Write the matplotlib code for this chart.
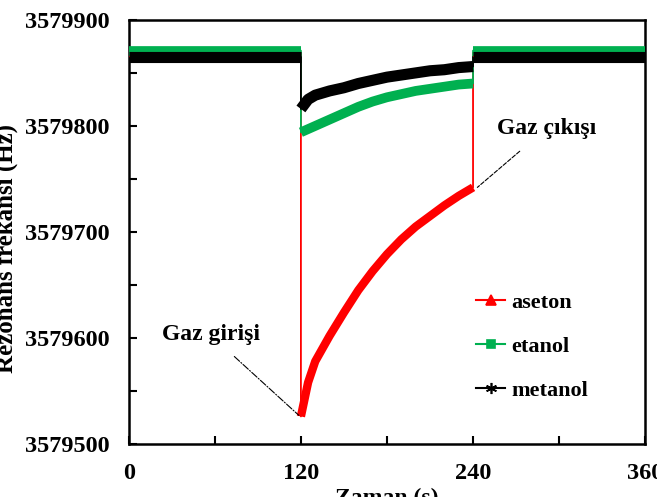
import matplotlib
matplotlib.use("Agg")
import matplotlib.pyplot as plt
from matplotlib.lines import Line2D

# zaman (s) ve rezonans frekansi (Hz)
base_time = [0, 120]
after_time = [240, 360]
gas_time = [120, 125, 130, 135, 140, 150, 160, 170, 180, 190, 200, 210, 220, 230, 240]

aseton_base = 3579869
aseton_gas = [3579526, 3579558, 3579578, 3579590, 3579602, 3579624, 3579645, 3579663,
              3579679, 3579693, 3579705, 3579715, 3579725, 3579734, 3579742]

etanol_base = 3579871
etanol_gas = [3579794, 3579797, 3579800, 3579803, 3579806, 3579812, 3579818, 3579823,
              3579827, 3579830, 3579833, 3579835, 3579837, 3579839, 3579840]

metanol_base = 3579865
metanol_gas = [3579816, 3579825, 3579829, 3579831, 3579833, 3579836, 3579840, 3579843,
               3579846, 3579848, 3579850, 3579852, 3579853, 3579855, 3579856]

x_ticks = [0, 120, 240, 360]
y_ticks = [3579500, 3579600, 3579700, 3579800, 3579900]

FONT = "Liberation Serif"
series = [
    ("aseton", aseton_base, aseton_gas, "#ff0000", "^", 6.0, 7),
    ("etanol", etanol_base, etanol_gas, "#00b050", "s", 7.0, 6),
    ("metanol", metanol_base, metanol_gas, "#000000", (6, 2, 0), 8.0, 8),
]

fig = plt.figure(figsize=(6.57, 4.97), dpi=100)
ax = fig.add_axes([0.196, 0.1066, 0.786, 0.8534])

handles = []
for name, base, gas, color, marker, band, msize in series:
    full_t = base_time + gas_time + after_time
    full_v = [base, base] + gas + [base, base]
    ax.plot(full_t, full_v, color=color, lw=1.3, zorder=2)
    # kalin bant (yogun marker gorunumu)
    ax.plot(base_time, [base, base], color=color, lw=band, solid_capstyle="butt", zorder=3)
    ax.plot(after_time, [base, base], color=color, lw=band, solid_capstyle="butt", zorder=3)
    ax.plot(gas_time, gas, color=color, lw=band, solid_capstyle="butt", zorder=3)
    handles.append(Line2D([], [], color=color, lw=1.5, marker=marker, markersize=msize,
                          markeredgewidth=1.2, label=name))

ax.set_xlim(0, 360)
ax.set_ylim(3579500, 3579900)
ax.set_xticks(x_ticks)
ax.set_xticks([60, 180, 300], minor=True)
ax.set_yticks(y_ticks)
ax.set_yticks([3579550, 3579650, 3579750, 3579850], minor=True)
ax.set_xticklabels([str(t) for t in x_ticks], fontfamily=FONT, fontweight="bold", fontsize=17.5)
ax.set_yticklabels([str(v) for v in y_ticks], fontfamily=FONT, fontweight="bold", fontsize=17.5)
ax.tick_params(which="both", direction="in", width=1.5, top=False, right=False)
ax.tick_params(which="major", length=6, pad=14)
ax.tick_params(which="minor", length=6)
for sp in ax.spines.values():
    sp.set_linewidth(1.8)

ax.set_xlabel("Zaman (s)", fontfamily=FONT, fontweight="bold", fontsize=17)
ax.xaxis.set_label_coords(0.5, -0.104)
ax.xaxis.label.set_va("top")
ax.set_ylabel("Rezonans frekansı (Hz)", fontfamily=FONT, fontweight="bold", fontsize=18)
ax.yaxis.set_label_coords(-0.214, 0.462)

ax.annotate("Gaz girişi", xy=(118.6, 3579527), xytext=(57, 3579603),
            ha="center", va="center", fontfamily=FONT, fontweight="bold", fontsize=17,
            arrowprops=dict(arrowstyle="-", linestyle="-.", lw=0.8, color="black",
                            shrinkA=9, shrinkB=0))
ax.annotate("Gaz çıkışı", xy=(243, 3579742), xytext=(291.5, 3579798),
            ha="center", va="center", fontfamily=FONT, fontweight="bold", fontsize=17,
            arrowprops=dict(arrowstyle="-", linestyle="--", lw=0.8, color="black",
                            shrinkA=11, shrinkB=0))

leg = ax.legend(handles=handles, loc="upper left", bbox_to_anchor=(0.634, 0.405),
                frameon=False, handlelength=1.3, handletextpad=0.3, labelspacing=1.05,
                prop={"family": FONT, "weight": "bold", "size": 16})

fig.savefig("out.png", dpi=100)
